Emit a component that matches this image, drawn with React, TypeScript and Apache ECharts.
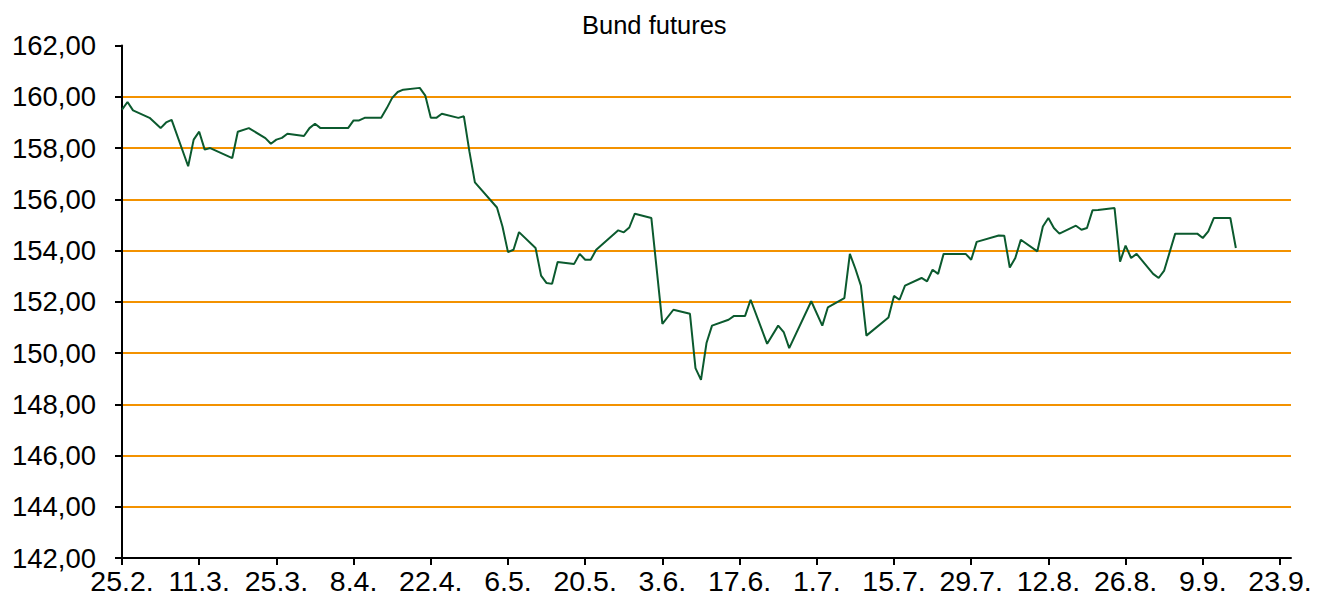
import React, { useEffect, useRef } from "react";
import * as echarts from "echarts";

const title = "Bund futures";

const dates: string[] = [
  "2015-02-25", "2015-02-26", "2015-02-27", "2015-03-02", "2015-03-04", "2015-03-05", "2015-03-06",
  "2015-03-09", "2015-03-10", "2015-03-11", "2015-03-12", "2015-03-13", "2015-03-17", "2015-03-18",
  "2015-03-20", "2015-03-23", "2015-03-24", "2015-03-25", "2015-03-26", "2015-03-27", "2015-03-30",
  "2015-03-31", "2015-04-01", "2015-04-02", "2015-04-07", "2015-04-08", "2015-04-09", "2015-04-10",
  "2015-04-13", "2015-04-14", "2015-04-15", "2015-04-16", "2015-04-17", "2015-04-20", "2015-04-21",
  "2015-04-22", "2015-04-23", "2015-04-24", "2015-04-27", "2015-04-28", "2015-04-29", "2015-04-30",
  "2015-05-04", "2015-05-05", "2015-05-06", "2015-05-07", "2015-05-08", "2015-05-11", "2015-05-12",
  "2015-05-13", "2015-05-14", "2015-05-15", "2015-05-18", "2015-05-19", "2015-05-20", "2015-05-21",
  "2015-05-22", "2015-05-26", "2015-05-27", "2015-05-28", "2015-05-29", "2015-06-01", "2015-06-03",
  "2015-06-05", "2015-06-08", "2015-06-09", "2015-06-10", "2015-06-11", "2015-06-12", "2015-06-15",
  "2015-06-16", "2015-06-18", "2015-06-19", "2015-06-22", "2015-06-24", "2015-06-25", "2015-06-26",
  "2015-06-30", "2015-07-02", "2015-07-03", "2015-07-06", "2015-07-07", "2015-07-08", "2015-07-09",
  "2015-07-10", "2015-07-14", "2015-07-15", "2015-07-16", "2015-07-17", "2015-07-20", "2015-07-21",
  "2015-07-22", "2015-07-23", "2015-07-24", "2015-07-28", "2015-07-29", "2015-07-30", "2015-08-03",
  "2015-08-04", "2015-08-05", "2015-08-06", "2015-08-07", "2015-08-10", "2015-08-11", "2015-08-12",
  "2015-08-13", "2015-08-14", "2015-08-17", "2015-08-18", "2015-08-19", "2015-08-20", "2015-08-21",
  "2015-08-24", "2015-08-25", "2015-08-26", "2015-08-27", "2015-08-28", "2015-08-31", "2015-09-01",
  "2015-09-02", "2015-09-04", "2015-09-08", "2015-09-09", "2015-09-10", "2015-09-11", "2015-09-14",
  "2015-09-15",
];

const values: number[] = [
  159.5, 159.8, 159.47, 159.18, 158.78, 159.0, 159.1,
  157.29, 158.33, 158.64, 157.94, 158.0, 157.61, 158.64,
  158.78, 158.39, 158.17, 158.33, 158.4, 158.56, 158.47,
  158.78, 158.95, 158.78, 158.78, 159.08, 159.08, 159.18,
  159.18, 159.55, 159.96, 160.19, 160.28, 160.35, 160.05,
  159.18, 159.18, 159.34, 159.18, 159.24, 157.87, 156.66,
  155.68, 154.94, 153.94, 154.03, 154.72, 154.1, 153.02,
  152.73, 152.7, 153.55, 153.48, 153.87, 153.64, 153.64,
  154.03, 154.79, 154.71, 154.9, 155.44, 155.27, 151.14,
  151.69, 151.53, 149.41, 148.95, 150.39, 151.07, 151.3,
  151.45, 151.45, 152.08, 150.36, 151.07, 150.82, 150.19,
  152.02, 151.07, 151.78, 152.14, 153.87, 153.29, 152.63,
  150.68, 151.39, 152.23, 152.08, 152.63, 152.93, 152.8,
  153.25, 153.09, 153.87, 153.87, 153.64, 154.34, 154.59,
  154.58, 153.34, 153.71, 154.42, 153.97, 154.94, 155.27,
  154.88, 154.66, 154.97, 154.81, 154.88, 155.57, 155.58,
  155.66, 153.57, 154.19, 153.71, 153.87, 153.09, 152.93,
  153.22, 154.66, 154.66, 154.49, 154.75, 155.27, 155.27,
  154.1,
];

const tickDates: string[] = [
  "2015-02-25", "2015-03-11", "2015-03-25", "2015-04-08", "2015-04-22", "2015-05-06",
  "2015-05-20", "2015-06-03", "2015-06-17", "2015-07-01", "2015-07-15", "2015-07-29",
  "2015-08-12", "2015-08-26", "2015-09-09", "2015-09-23",
];
const tickLabels: string[] = [
  "25.2.", "11.3.", "25.3.", "8.4.", "22.4.", "6.5.", "20.5.", "3.6.",
  "17.6.", "1.7.", "15.7.", "29.7.", "12.8.", "26.8.", "9.9.", "23.9.",
];
const axisEndDate = "2015-09-25";

const yMin = 142;
const yMax = 162;
const yStep = 2;

const DAY = 86400000;
const base = Date.parse(dates[0] + "T00:00:00Z");
const toOffset = (d: string) => Math.round((Date.parse(d + "T00:00:00Z") - base) / DAY);

export default function App() {
  const ref = useRef<HTMLDivElement>(null);
  useEffect(() => {
    if (!ref.current) return;
    const chart = echarts.init(ref.current, null, { renderer: "svg" });
    const tickOffsets = tickDates.map(toOffset);
    const font = "'Liberation Sans', Arial, sans-serif";
    chart.setOption({
      animation: false,
      backgroundColor: "#ffffff",
      title: {
        text: title,
        left: 577,
        top: 7,
        textStyle: { fontFamily: font, fontSize: 25.5, fontWeight: "normal", color: "#000000" },
      },
      grid: { left: 122, right: 26, top: 45.6, bottom: 40 },
      xAxis: {
        type: "value",
        min: 0,
        max: toOffset(axisEndDate),
        axisLine: { show: true, lineStyle: { color: "#000000", width: 2 } },
        axisTick: {
          show: true,
          length: 7,
          customValues: tickOffsets,
          lineStyle: { color: "#000000", width: 2 },
        },
        axisLabel: {
          customValues: tickOffsets,
          formatter: (v: number) => {
            const i = tickOffsets.indexOf(Math.round(v));
            return i >= 0 ? tickLabels[i] : "";
          },
          fontFamily: font,
          fontSize: 28.5,
          color: "#000000",
          margin: 8,
        },
        splitLine: { show: false },
      },
      yAxis: {
        type: "value",
        min: yMin,
        max: yMax,
        interval: yStep,
        axisLine: { show: true, lineStyle: { color: "#000000", width: 2 } },
        axisTick: { show: true, length: 7, lineStyle: { color: "#000000", width: 2 } },
        axisLabel: {
          formatter: (v: number) => v.toFixed(2).replace(".", ","),
          fontFamily: font,
          fontSize: 27.5,
          color: "#000000",
          margin: 26,
        },
        splitLine: {
          show: true,
          showMinLine: false,
          showMaxLine: false,
          lineStyle: { color: "#F39200", width: 2 },
        },
      },
      series: [
        {
          type: "line",
          data: dates.map((d, i) => [toOffset(d), values[i]]),
          symbol: "none",
          lineStyle: { color: "#0B5A2E", width: 2 },
          z: 5,
        },
      ],
    });
    return () => chart.dispose();
  }, []);
  return (
    <div
      ref={ref}
      style={{ position: "fixed", left: 0, top: 0, width: 1317, height: 598 }}
    />
  );
}
